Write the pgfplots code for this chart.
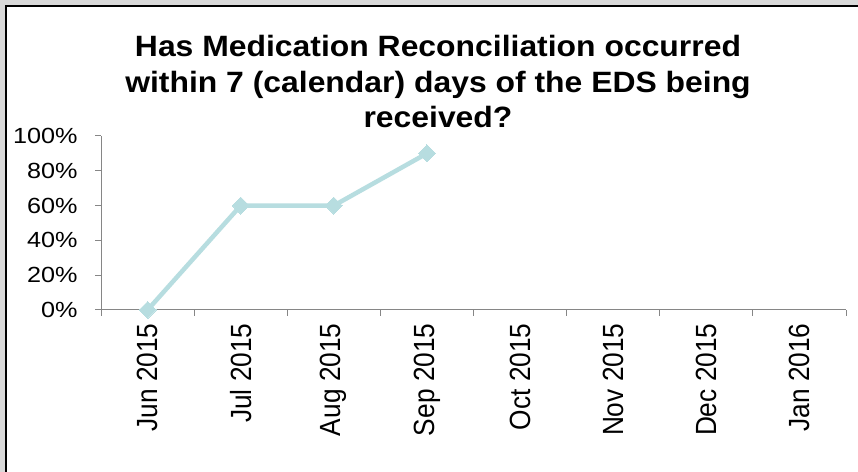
\documentclass[border=0pt]{standalone}
\usepackage{fontspec}
\setmainfont{Liberation Sans}
\newfontfamily\titlefont{Liberation Sans}[FakeStretch=1.085]
\newfontfamily\ytickfont{Liberation Sans}[FakeStretch=1.15]
\newfontfamily\xtickfont{Liberation Sans}[FakeStretch=0.9]
\usepackage{pgfplots}
\pgfplotsset{compat=1.18}
\definecolor{linecol}{RGB}{183,221,224}
\definecolor{axcol}{RGB}{134,134,134}
\definecolor{bggrey}{RGB}{217,217,217}
\begin{document}
\begin{tikzpicture}
\useasboundingbox (0,0) rectangle (858bp,472bp);
\fill[bggrey] (0,0) rectangle (858bp,472bp);
\fill[white] (7.3bp,0) rectangle (858bp,465bp);
\draw[black,line width=2bp] (6.3bp,0) -- (6.3bp,466bp) -- (858bp,466bp);
\node[font=\titlefont\bfseries\fontsize{29.5}{35}\selectfont, anchor=base, inner sep=0pt] at (438bp,415bp) {Has Medication Reconciliation occurred};
\node[font=\titlefont\bfseries\fontsize{29.5}{35}\selectfont, anchor=base, inner sep=0pt] at (438bp,379.5bp) {within 7 (calendar) days of the EDS being};
\node[font=\titlefont\bfseries\fontsize{29.5}{35}\selectfont, anchor=base, inner sep=0pt] at (438bp,344bp) {received?};
\begin{axis}[
  at={(101bp,162bp)}, anchor=south west,
  scale only axis, width=745bp, height=174bp,
  xmin=-0.5, xmax=7.5, ymin=0, ymax=100,
  axis x line*=bottom, axis y line*=left,
  axis line style={axcol, line width=1bp},
  tick align=outside,
  major tick length=6bp, minor tick length=6bp,
  xtick={0,...,7},
  xticklabels={Jun 2015,Jul 2015,Aug 2015,Sep 2015,Oct 2015,Nov 2015,Dec 2015,Jan 2016},
  minor xtick={-0.5,0.5,...,7.5},
  major x tick style={draw=none},
  minor x tick style={axcol, line width=1bp},
  ytick={0,20,40,60,80,100},
  yticklabels={0\%,20\%,40\%,60\%,80\%,100\%},
  y tick style={axcol, line width=1bp},
  yticklabel style={font=\ytickfont\fontsize{22}{26}\selectfont, xshift=-14bp},
  xticklabel style={font=\xtickfont\fontsize{29.3}{34}\selectfont, rotate=90, anchor=east},
  xticklabel shift=4bp,
  clip=false,
]
\addplot[linecol, line width=4.5bp, mark=square*, mark size=6bp, mark options={rotate=45, fill=linecol, draw=linecol, line width=0pt}] coordinates {(0,0)(1,60)(2,60)(3,90)};
\end{axis}
\end{tikzpicture}
\end{document}
